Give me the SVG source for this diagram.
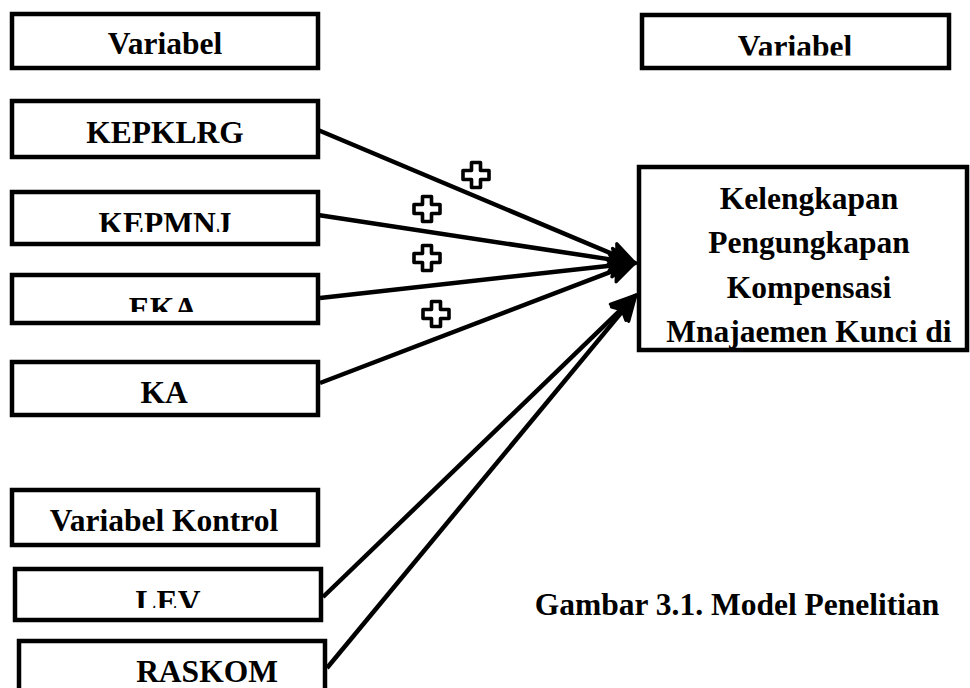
<svg xmlns="http://www.w3.org/2000/svg" width="970" height="688" viewBox="0 0 970 688">
<style>
.box{fill:#fff;stroke:#000;stroke-width:4.5}
.t{font-family:"Liberation Serif","Times New Roman",serif;font-weight:bold;font-size:31.5px;fill:#000;text-anchor:middle}
.edge{fill:none;stroke:#000;stroke-width:4.5;marker-end:url(#arr)}
.plus{fill:#fff;stroke:#000;stroke-width:3.6;stroke-linejoin:round}
</style>
<defs>
<marker id="arr" markerUnits="userSpaceOnUse" markerWidth="30" markerHeight="30" viewBox="-16 -12 24 24" refX="0" refY="0" orient="auto" overflow="visible">
<path d="M6,0 L-14,-9 L-10,0 L-14,9 Z" fill="#000" stroke="#000" stroke-width="2.5" stroke-linejoin="round"/>
</marker>
<clipPath id="cVarR"><rect x="640" y="0" width="320" height="55.5"/></clipPath>
<clipPath id="cMNJ"><rect x="0" y="190" width="330" height="42"/></clipPath>
<clipPath id="cEKA"><rect x="0" y="280" width="330" height="32"/></clipPath>
<clipPath id="cLEV"><rect x="0" y="570" width="330" height="38"/></clipPath>
<path id="pl" class="plus" d="M-4.5,-12.5 H4.5 V-4.5 H13 V4.5 H4.5 V12.5 H-4.5 V4.5 H-13 V-4.5 H-4.5 Z"/>
</defs>
<rect width="970" height="688" fill="#fff"/>

<g id="connectors">
<path class="edge" d="M318,130 L628.5,260.7"/>
<path class="edge" d="M318,215 L628.1,262.1"/>
<path class="edge" d="M320,298 L628,263.7"/>
<path class="edge" d="M320,383 L628.4,265.1"/>
<path class="edge" d="M323,597 L630.7,300.2"/>
<path class="edge" d="M327,668 L631.2,300.6"/>
</g>

<g id="signs">
<use href="#pl" x="476" y="175"/>
<use href="#pl" x="427" y="209"/>
<use href="#pl" x="427" y="258"/>
<use href="#pl" x="436" y="314"/>
</g>

<g id="n-variabel-left">
<rect class="box" x="12" y="14" width="306" height="54"/>
<text class="t" x="165" y="54">Variabel</text>
</g>
<g id="n-variabel-right">
<rect class="box" x="642" y="15" width="307" height="53"/>
<text class="t" x="795" y="57" clip-path="url(#cVarR)">Variabel</text>
</g>
<g id="n-kepklrg">
<rect class="box" x="12" y="101" width="306" height="56"/>
<text class="t" x="165" y="143">KEPKLRG</text>
</g>
<g id="n-kepmnj">
<rect class="box" x="12" y="192" width="306" height="52"/>
<text class="t" x="165" y="234" clip-path="url(#cMNJ)">KEPMNJ</text>
</g>
<g id="n-eka">
<rect class="box" x="12" y="275" width="306" height="48"/>
<text class="t" x="163" y="319" clip-path="url(#cEKA)">EKA</text>
</g>
<g id="n-ka">
<rect class="box" x="12" y="362" width="306" height="53"/>
<text class="t" x="164" y="403">KA</text>
</g>
<g id="n-variabel-kontrol">
<rect class="box" x="12" y="490" width="306" height="55"/>
<text class="t" x="164" y="531">Variabel Kontrol</text>
</g>
<g id="n-lev">
<rect class="box" x="15" y="569" width="306" height="51"/>
<text class="t" x="168" y="612" clip-path="url(#cLEV)">LEV</text>
</g>
<g id="n-raskom">
<rect class="box" x="19" y="641" width="306" height="60"/>
<text class="t" x="207" y="682">RASKOM</text>
</g>
<g id="n-target">
<rect class="box" x="639" y="167" width="328" height="183"/>
<text class="t" x="809" y="209">Kelengkapan</text>
<text class="t" x="809" y="253">Pengungkapan</text>
<text class="t" x="809" y="298">Kompensasi</text>
<text class="t" x="809" y="342">Mnajaemen Kunci di</text>
</g>

<text class="t" x="737" y="615">Gambar 3.1. Model Penelitian</text>
</svg>
